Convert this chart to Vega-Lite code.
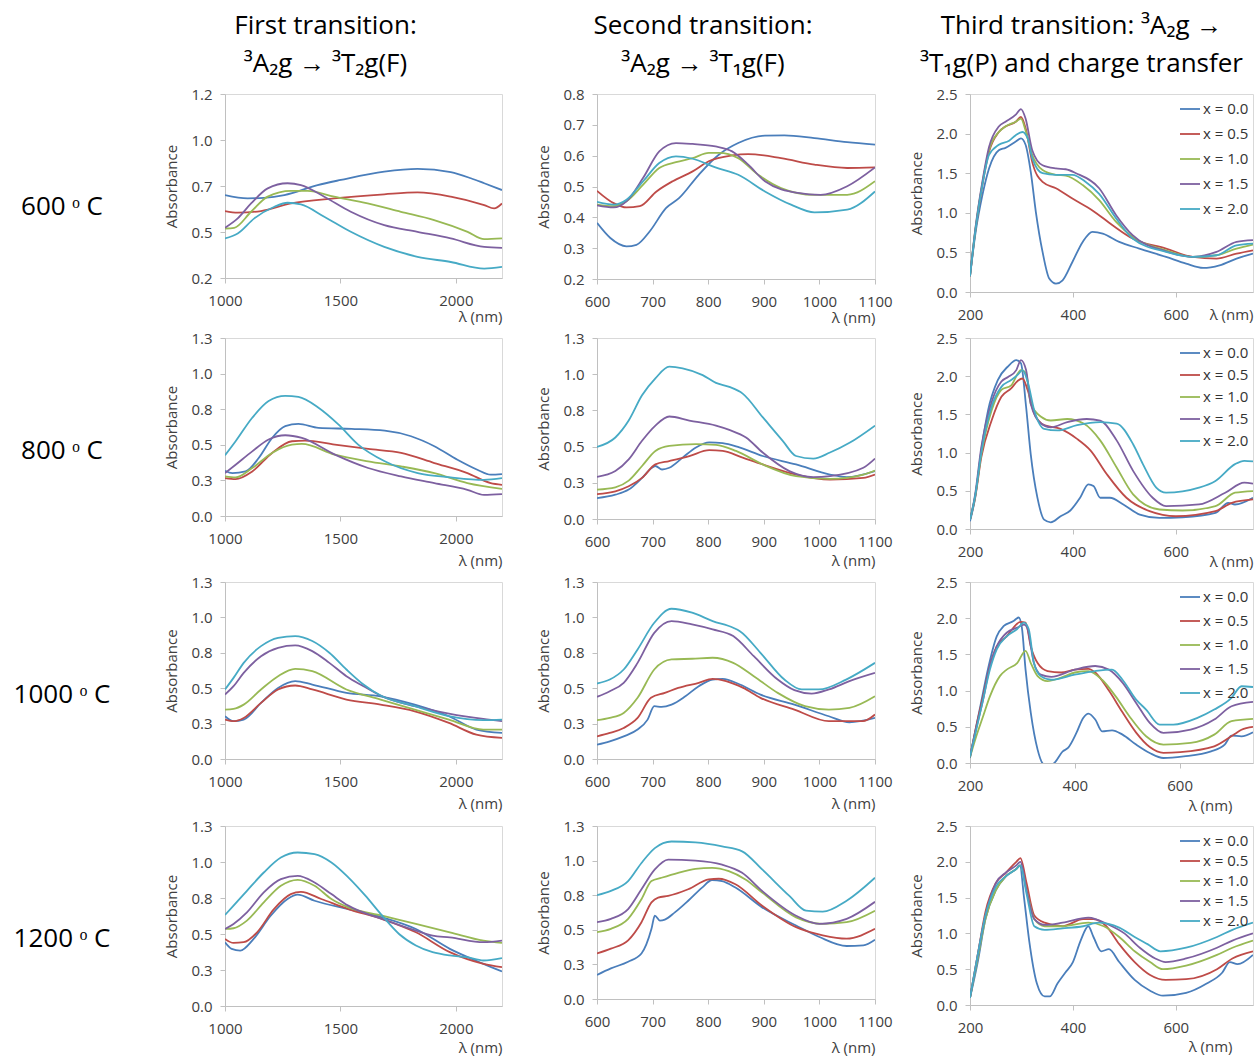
{
"$schema": "https://vega.github.io/schema/vega-lite/v6.json",
"padding": 0,
"background": "white",
"columns": 4,
"bounds": "flush",
"align": "each",
"spacing": {"row": 18, "column": 95},
"resolve": {"scale": {"color": "independent"}},
"config": {
  "font": "Open Sans",
  "view": {"stroke": "#d9d9d9", "strokeWidth": 1},
  "axis": {"labelFont": "Open Sans", "labelFontSize": 15, "labelColor": "#404040", "titleFont": "Open Sans", "titleFontSize": 15, "titleFontWeight": "normal", "titleColor": "#404040", "domainColor": "#c0c0c0", "tickColor": "#c0c0c0", "tickSize": 5, "grid": false, "labelFlush": false, "labelOverlap": false},
  "axisX": {"labelPadding": 10, "titleAnchor": "end", "titleAlign": "right", "titleBaseline": "middle", "format": "d"},
  "axisY": {"labelPadding": 8, "titlePadding": 11},
  "legend": {"labelFont": "Open Sans", "labelFontSize": 15, "labelColor": "#333333", "symbolType": "stroke", "symbolStrokeWidth": 2, "symbolSize": 400, "labelOffset": 2, "padding": 0},
  "line": {"strokeWidth": 1.8, "interpolate": "monotone"},
  "text": {"font": "Open Sans", "color": "black"}
},
"concat": [
  {"width": 130, "height": 76, "view": {"stroke": null}, "data": {"values": [{"t": ""}]}, "mark": {"type": "text"}, "encoding": {"text": {"field": "t", "type": "nominal"}}},
  {"width": 277, "height": 76, "view": {"stroke": null}, "data": {"values": [{"t": "First transition:\n³A₂g → ³T₂g(F)"}]}, "mark": {"type": "text", "fontSize": 26, "lineBreak": "\n", "lineHeight": 38, "dy": -12, "dx": -38}, "encoding": {"text": {"field": "t", "type": "nominal"}}},
  {"width": 278, "height": 76, "view": {"stroke": null}, "data": {"values": [{"t": "Second transition:\n³A₂g → ³T₁g(F)"}]}, "mark": {"type": "text", "fontSize": 26, "lineBreak": "\n", "lineHeight": 38, "dy": -12, "dx": -33}, "encoding": {"text": {"field": "t", "type": "nominal"}}},
  {"width": 283, "height": 76, "view": {"stroke": null}, "data": {"values": [{"t": "Third transition: ³A₂g →\n³T₁g(P) and charge transfer"}]}, "mark": {"type": "text", "fontSize": 26, "lineBreak": "\n", "lineHeight": 38, "dy": -12, "dx": -30}, "encoding": {"text": {"field": "t", "type": "nominal"}}},

  {"width": 130, "height": 226, "view": {"stroke": null}, "data": {"values": [{"t": "600 ᵒ C"}]}, "mark": {"type": "text", "fontSize": 26, "dx": -3}, "encoding": {"text": {"field": "t", "type": "nominal"}}},
  {"width": 277, "height": 184,
   "data": {"values": [
    {"s":"x = 0.0","w":1000,"a":0.651},{"s":"x = 0.0","w":1098,"a":0.633},{"s":"x = 0.0","w":1170,"a":0.636},{"s":"x = 0.0","w":1257,"a":0.651},{"s":"x = 0.0","w":1401,"a":0.705},{"s":"x = 0.0","w":1502,"a":0.733},{"s":"x = 0.0","w":1690,"a":0.778},{"s":"x = 0.0","w":1834,"a":0.793},{"s":"x = 0.0","w":1978,"a":0.775},{"s":"x = 0.0","w":2065,"a":0.742},{"s":"x = 0.0","w":2123,"a":0.715},{"s":"x = 0.0","w":2200,"a":0.678},
    {"s":"x = 0.5","w":1000,"a":0.564},{"s":"x = 0.5","w":1055,"a":0.555},{"s":"x = 0.5","w":1156,"a":0.564},{"s":"x = 0.5","w":1286,"a":0.605},{"s":"x = 0.5","w":1473,"a":0.633},{"s":"x = 0.5","w":1690,"a":0.655},{"s":"x = 0.5","w":1834,"a":0.665},{"s":"x = 0.5","w":1978,"a":0.642},{"s":"x = 0.5","w":2123,"a":0.596},{"s":"x = 0.5","w":2166,"a":0.578},{"s":"x = 0.5","w":2200,"a":0.605},
    {"s":"x = 1.0","w":1000,"a":0.469},{"s":"x = 1.0","w":1040,"a":0.473},{"s":"x = 1.0","w":1113,"a":0.56},{"s":"x = 1.0","w":1185,"a":0.642},{"s":"x = 1.0","w":1286,"a":0.673},{"s":"x = 1.0","w":1358,"a":0.673},{"s":"x = 1.0","w":1473,"a":0.642},{"s":"x = 1.0","w":1618,"a":0.605},{"s":"x = 1.0","w":1762,"a":0.56},{"s":"x = 1.0","w":1906,"a":0.515},{"s":"x = 1.0","w":2051,"a":0.451},{"s":"x = 1.0","w":2123,"a":0.411},{"s":"x = 1.0","w":2200,"a":0.415},
    {"s":"x = 1.5","w":1000,"a":0.473},{"s":"x = 1.5","w":1055,"a":0.524},{"s":"x = 1.5","w":1113,"a":0.605},{"s":"x = 1.5","w":1185,"a":0.687},{"s":"x = 1.5","w":1271,"a":0.715},{"s":"x = 1.5","w":1329,"a":0.705},{"s":"x = 1.5","w":1430,"a":0.642},{"s":"x = 1.5","w":1545,"a":0.56},{"s":"x = 1.5","w":1690,"a":0.487},{"s":"x = 1.5","w":1834,"a":0.451},{"s":"x = 1.5","w":1978,"a":0.415},{"s":"x = 1.5","w":2123,"a":0.369},{"s":"x = 1.5","w":2200,"a":0.364},
    {"s":"x = 2.0","w":1000,"a":0.415},{"s":"x = 2.0","w":1055,"a":0.442},{"s":"x = 2.0","w":1127,"a":0.524},{"s":"x = 2.0","w":1214,"a":0.587},{"s":"x = 2.0","w":1271,"a":0.609},{"s":"x = 2.0","w":1329,"a":0.6},{"s":"x = 2.0","w":1430,"a":0.533},{"s":"x = 2.0","w":1545,"a":0.451},{"s":"x = 2.0","w":1690,"a":0.369},{"s":"x = 2.0","w":1834,"a":0.315},{"s":"x = 2.0","w":1978,"a":0.287},{"s":"x = 2.0","w":2123,"a":0.251},{"s":"x = 2.0","w":2200,"a":0.26}
   ]},
   "mark": {"type": "line", "clip": true},
   "encoding": {
    "x": {"field": "w", "type": "quantitative", "scale": {"domain": [1000, 2200], "nice": false, "zero": false}, "axis": {"values": [1000, 1500, 2000], "title": "λ (nm)", "titleY": 38}},
    "y": {"field": "a", "type": "quantitative", "scale": {"domain": [0.2, 1.2], "nice": false, "zero": false}, "axis": {"values": [0.2, 0.45, 0.7, 0.95, 1.2], "labelExpr": "format(datum.value + 0.000001, '.1f')", "title": "Absorbance"}},
    "color": {"field": "s", "type": "nominal", "scale": {"domain": ["x = 0.0", "x = 0.5", "x = 1.0", "x = 1.5", "x = 2.0"], "range": ["#4a7ebb", "#be4b48", "#98b954", "#7d60a0", "#46aac5"]}, "legend": null}
   }},
  {"width": 278, "height": 185,
   "data": {"values": [
    {"s":"x = 0.0","w":600,"a":0.382},{"s":"x = 0.0","w":624,"a":0.333},{"s":"x = 0.0","w":653,"a":0.306},{"s":"x = 0.0","w":671,"a":0.311},{"s":"x = 0.0","w":695,"a":0.355},{"s":"x = 0.0","w":724,"a":0.43},{"s":"x = 0.0","w":748,"a":0.463},{"s":"x = 0.0","w":783,"a":0.538},{"s":"x = 0.0","w":819,"a":0.603},{"s":"x = 0.0","w":854,"a":0.641},{"s":"x = 0.0","w":902,"a":0.665},{"s":"x = 0.0","w":937,"a":0.666},{"s":"x = 0.0","w":991,"a":0.657},{"s":"x = 0.0","w":1050,"a":0.644},{"s":"x = 0.0","w":1100,"a":0.636},
    {"s":"x = 0.5","w":600,"a":0.486},{"s":"x = 0.5","w":630,"a":0.446},{"s":"x = 0.5","w":653,"a":0.432},{"s":"x = 0.5","w":677,"a":0.436},{"s":"x = 0.5","w":707,"a":0.484},{"s":"x = 0.5","w":736,"a":0.517},{"s":"x = 0.5","w":772,"a":0.549},{"s":"x = 0.5","w":801,"a":0.582},{"s":"x = 0.5","w":843,"a":0.601},{"s":"x = 0.5","w":872,"a":0.605},{"s":"x = 0.5","w":931,"a":0.592},{"s":"x = 0.5","w":991,"a":0.571},{"s":"x = 0.5","w":1050,"a":0.56},{"s":"x = 0.5","w":1100,"a":0.562},
    {"s":"x = 1.0","w":600,"a":0.441},{"s":"x = 1.0","w":630,"a":0.436},{"s":"x = 1.0","w":653,"a":0.452},{"s":"x = 1.0","w":683,"a":0.506},{"s":"x = 1.0","w":712,"a":0.56},{"s":"x = 1.0","w":742,"a":0.579},{"s":"x = 1.0","w":772,"a":0.592},{"s":"x = 1.0","w":801,"a":0.609},{"s":"x = 1.0","w":819,"a":0.609},{"s":"x = 1.0","w":854,"a":0.592},{"s":"x = 1.0","w":890,"a":0.538},{"s":"x = 1.0","w":931,"a":0.495},{"s":"x = 1.0","w":991,"a":0.473},{"s":"x = 1.0","w":1050,"a":0.473},{"s":"x = 1.0","w":1100,"a":0.517},
    {"s":"x = 1.5","w":600,"a":0.439},{"s":"x = 1.5","w":630,"a":0.432},{"s":"x = 1.5","w":653,"a":0.452},{"s":"x = 1.5","w":683,"a":0.528},{"s":"x = 1.5","w":712,"a":0.614},{"s":"x = 1.5","w":742,"a":0.641},{"s":"x = 1.5","w":772,"a":0.638},{"s":"x = 1.5","w":813,"a":0.63},{"s":"x = 1.5","w":843,"a":0.614},{"s":"x = 1.5","w":872,"a":0.571},{"s":"x = 1.5","w":902,"a":0.517},{"s":"x = 1.5","w":961,"a":0.479},{"s":"x = 1.5","w":1002,"a":0.473},{"s":"x = 1.5","w":1050,"a":0.501},{"s":"x = 1.5","w":1100,"a":0.562},
    {"s":"x = 2.0","w":600,"a":0.45},{"s":"x = 2.0","w":630,"a":0.441},{"s":"x = 2.0","w":653,"a":0.457},{"s":"x = 2.0","w":683,"a":0.517},{"s":"x = 2.0","w":712,"a":0.576},{"s":"x = 2.0","w":742,"a":0.598},{"s":"x = 2.0","w":772,"a":0.59},{"s":"x = 2.0","w":813,"a":0.562},{"s":"x = 2.0","w":854,"a":0.538},{"s":"x = 2.0","w":902,"a":0.484},{"s":"x = 2.0","w":949,"a":0.441},{"s":"x = 2.0","w":991,"a":0.416},{"s":"x = 2.0","w":1050,"a":0.425},{"s":"x = 2.0","w":1100,"a":0.484}
   ]},
   "mark": {"type": "line", "clip": true},
   "encoding": {
    "x": {"field": "w", "type": "quantitative", "scale": {"domain": [600, 1100], "nice": false, "zero": false}, "axis": {"values": [600, 700, 800, 900, 1000, 1100], "title": "λ (nm)", "titleY": 38}},
    "y": {"field": "a", "type": "quantitative", "scale": {"domain": [0.2, 0.8], "nice": false, "zero": false}, "axis": {"values": [0.2, 0.3, 0.4, 0.5, 0.6, 0.7, 0.8], "format": ".1f", "title": "Absorbance"}},
    "color": {"field": "s", "type": "nominal", "scale": {"domain": ["x = 0.0", "x = 0.5", "x = 1.0", "x = 1.5", "x = 2.0"], "range": ["#4a7ebb", "#be4b48", "#98b954", "#7d60a0", "#46aac5"]}, "legend": null}
   }},
  {"width": 283, "height": 198,
   "data": {"values": [
    {"s":"x = 0.0","w":200,"a":0.2},{"s":"x = 0.0","w":211,"a":0.759},{"s":"x = 0.0","w":224,"a":1.22},{"s":"x = 0.0","w":237,"a":1.56},{"s":"x = 0.0","w":256,"a":1.79},{"s":"x = 0.0","w":269,"a":1.82},{"s":"x = 0.0","w":289,"a":1.9},{"s":"x = 0.0","w":299,"a":1.94},{"s":"x = 0.0","w":308,"a":1.86},{"s":"x = 0.0","w":318,"a":1.52},{"s":"x = 0.0","w":328,"a":1.01},{"s":"x = 0.0","w":341,"a":0.506},{"s":"x = 0.0","w":354,"a":0.169},{"s":"x = 0.0","w":367,"a":0.105},{"s":"x = 0.0","w":380,"a":0.148},{"s":"x = 0.0","w":399,"a":0.379},{"s":"x = 0.0","w":419,"a":0.632},{"s":"x = 0.0","w":438,"a":0.759},{"s":"x = 0.0","w":458,"a":0.738},{"s":"x = 0.0","w":490,"a":0.632},{"s":"x = 0.0","w":529,"a":0.548},{"s":"x = 0.0","w":581,"a":0.443},{"s":"x = 0.0","w":620,"a":0.358},{"s":"x = 0.0","w":653,"a":0.304},{"s":"x = 0.0","w":685,"a":0.337},{"s":"x = 0.0","w":718,"a":0.422},{"s":"x = 0.0","w":750,"a":0.485},
    {"s":"x = 0.5","w":200,"a":0.2},{"s":"x = 0.5","w":211,"a":0.8},{"s":"x = 0.5","w":224,"a":1.35},{"s":"x = 0.5","w":237,"a":1.77},{"s":"x = 0.5","w":256,"a":2.02},{"s":"x = 0.5","w":269,"a":2.09},{"s":"x = 0.5","w":289,"a":2.15},{"s":"x = 0.5","w":299,"a":2.21},{"s":"x = 0.5","w":308,"a":2.07},{"s":"x = 0.5","w":321,"a":1.64},{"s":"x = 0.5","w":341,"a":1.39},{"s":"x = 0.5","w":367,"a":1.31},{"s":"x = 0.5","w":399,"a":1.18},{"s":"x = 0.5","w":438,"a":1.03},{"s":"x = 0.5","w":477,"a":0.843},{"s":"x = 0.5","w":516,"a":0.675},{"s":"x = 0.5","w":581,"a":0.548},{"s":"x = 0.5","w":633,"a":0.443},{"s":"x = 0.5","w":679,"a":0.422},{"s":"x = 0.5","w":718,"a":0.485},{"s":"x = 0.5","w":750,"a":0.527},
    {"s":"x = 1.0","w":200,"a":0.2},{"s":"x = 1.0","w":211,"a":0.82},{"s":"x = 1.0","w":224,"a":1.37},{"s":"x = 1.0","w":237,"a":1.79},{"s":"x = 1.0","w":256,"a":2.02},{"s":"x = 1.0","w":269,"a":2.09},{"s":"x = 1.0","w":289,"a":2.15},{"s":"x = 1.0","w":299,"a":2.19},{"s":"x = 1.0","w":308,"a":2.04},{"s":"x = 1.0","w":321,"a":1.73},{"s":"x = 1.0","w":341,"a":1.54},{"s":"x = 1.0","w":367,"a":1.48},{"s":"x = 1.0","w":386,"a":1.47},{"s":"x = 1.0","w":419,"a":1.35},{"s":"x = 1.0","w":451,"a":1.16},{"s":"x = 1.0","w":484,"a":0.885},{"s":"x = 1.0","w":516,"a":0.696},{"s":"x = 1.0","w":581,"a":0.527},{"s":"x = 1.0","w":633,"a":0.443},{"s":"x = 1.0","w":679,"a":0.464},{"s":"x = 1.0","w":718,"a":0.548},{"s":"x = 1.0","w":750,"a":0.599},
    {"s":"x = 1.5","w":200,"a":0.2},{"s":"x = 1.5","w":211,"a":0.83},{"s":"x = 1.5","w":224,"a":1.39},{"s":"x = 1.5","w":237,"a":1.83},{"s":"x = 1.5","w":256,"a":2.09},{"s":"x = 1.5","w":269,"a":2.15},{"s":"x = 1.5","w":289,"a":2.24},{"s":"x = 1.5","w":299,"a":2.31},{"s":"x = 1.5","w":308,"a":2.19},{"s":"x = 1.5","w":321,"a":1.79},{"s":"x = 1.5","w":341,"a":1.6},{"s":"x = 1.5","w":367,"a":1.56},{"s":"x = 1.5","w":386,"a":1.55},{"s":"x = 1.5","w":406,"a":1.5},{"s":"x = 1.5","w":451,"a":1.31},{"s":"x = 1.5","w":484,"a":0.97},{"s":"x = 1.5","w":516,"a":0.717},{"s":"x = 1.5","w":581,"a":0.514},{"s":"x = 1.5","w":633,"a":0.443},{"s":"x = 1.5","w":679,"a":0.506},{"s":"x = 1.5","w":718,"a":0.632},{"s":"x = 1.5","w":750,"a":0.654},
    {"s":"x = 2.0","w":200,"a":0.2},{"s":"x = 2.0","w":211,"a":0.8},{"s":"x = 2.0","w":224,"a":1.35},{"s":"x = 2.0","w":237,"a":1.73},{"s":"x = 2.0","w":256,"a":1.86},{"s":"x = 2.0","w":276,"a":1.91},{"s":"x = 2.0","w":289,"a":1.98},{"s":"x = 2.0","w":302,"a":2.02},{"s":"x = 2.0","w":312,"a":1.94},{"s":"x = 2.0","w":321,"a":1.69},{"s":"x = 2.0","w":341,"a":1.5},{"s":"x = 2.0","w":367,"a":1.48},{"s":"x = 2.0","w":399,"a":1.48},{"s":"x = 2.0","w":425,"a":1.39},{"s":"x = 2.0","w":451,"a":1.24},{"s":"x = 2.0","w":484,"a":0.93},{"s":"x = 2.0","w":516,"a":0.675},{"s":"x = 2.0","w":581,"a":0.506},{"s":"x = 2.0","w":633,"a":0.443},{"s":"x = 2.0","w":679,"a":0.464},{"s":"x = 2.0","w":718,"a":0.59},{"s":"x = 2.0","w":750,"a":0.611}
   ]},
   "mark": {"type": "line", "clip": true},
   "encoding": {
    "x": {"field": "w", "type": "quantitative", "scale": {"domain": [200, 750], "nice": false, "zero": false}, "axis": {"values": [200, 400, 600], "title": "λ (nm)", "titleY": 22}},
    "y": {"field": "a", "type": "quantitative", "scale": {"domain": [0, 2.5], "nice": false, "zero": false}, "axis": {"values": [0, 0.5, 1, 1.5, 2, 2.5], "format": ".1f", "title": "Absorbance"}},
    "color": {"field": "s", "type": "nominal", "scale": {"domain": ["x = 0.0", "x = 0.5", "x = 1.0", "x = 1.5", "x = 2.0"], "range": ["#4a7ebb", "#be4b48", "#98b954", "#7d60a0", "#46aac5"]}, "legend": {"title": null, "orient": "top-right", "offset": 4, "rowPadding": 6}}
   }},

  {"width": 130, "height": 226, "view": {"stroke": null}, "data": {"values": [{"t": "800 ᵒ C"}]}, "mark": {"type": "text", "fontSize": 26, "dx": -3}, "encoding": {"text": {"field": "t", "type": "nominal"}}},
  {"width": 277, "height": 178,
   "data": {"values": [
    {"s":"x = 0.0","w":1000,"a":0.318},{"s":"x = 0.0","w":1032,"a":0.301},{"s":"x = 0.0","w":1089,"a":0.313},{"s":"x = 0.0","w":1146,"a":0.407},{"s":"x = 0.0","w":1204,"a":0.548},{"s":"x = 0.0","w":1261,"a":0.631},{"s":"x = 0.0","w":1318,"a":0.647},{"s":"x = 0.0","w":1405,"a":0.619},{"s":"x = 0.0","w":1548,"a":0.612},{"s":"x = 0.0","w":1692,"a":0.6},{"s":"x = 0.0","w":1806,"a":0.56},{"s":"x = 0.0","w":1907,"a":0.49},{"s":"x = 0.0","w":2007,"a":0.395},{"s":"x = 0.0","w":2093,"a":0.325},{"s":"x = 0.0","w":2151,"a":0.29},{"s":"x = 0.0","w":2200,"a":0.294},
    {"s":"x = 0.5","w":1000,"a":0.266},{"s":"x = 0.5","w":1046,"a":0.259},{"s":"x = 0.5","w":1118,"a":0.313},{"s":"x = 0.5","w":1204,"a":0.443},{"s":"x = 0.5","w":1290,"a":0.525},{"s":"x = 0.5","w":1347,"a":0.53},{"s":"x = 0.5","w":1476,"a":0.501},{"s":"x = 0.5","w":1620,"a":0.471},{"s":"x = 0.5","w":1763,"a":0.443},{"s":"x = 0.5","w":1907,"a":0.372},{"s":"x = 0.5","w":2050,"a":0.301},{"s":"x = 0.5","w":2151,"a":0.231},{"s":"x = 0.5","w":2200,"a":0.219},
    {"s":"x = 1.0","w":1000,"a":0.278},{"s":"x = 1.0","w":1046,"a":0.271},{"s":"x = 1.0","w":1118,"a":0.337},{"s":"x = 1.0","w":1204,"a":0.443},{"s":"x = 1.0","w":1290,"a":0.501},{"s":"x = 1.0","w":1333,"a":0.506},{"s":"x = 1.0","w":1476,"a":0.431},{"s":"x = 1.0","w":1620,"a":0.384},{"s":"x = 1.0","w":1763,"a":0.348},{"s":"x = 1.0","w":1907,"a":0.301},{"s":"x = 1.0","w":2050,"a":0.231},{"s":"x = 1.0","w":2200,"a":0.191},
    {"s":"x = 1.5","w":1000,"a":0.301},{"s":"x = 1.5","w":1046,"a":0.36},{"s":"x = 1.5","w":1118,"a":0.454},{"s":"x = 1.5","w":1189,"a":0.537},{"s":"x = 1.5","w":1261,"a":0.567},{"s":"x = 1.5","w":1333,"a":0.548},{"s":"x = 1.5","w":1476,"a":0.431},{"s":"x = 1.5","w":1620,"a":0.337},{"s":"x = 1.5","w":1763,"a":0.278},{"s":"x = 1.5","w":1907,"a":0.231},{"s":"x = 1.5","w":2050,"a":0.184},{"s":"x = 1.5","w":2122,"a":0.148},{"s":"x = 1.5","w":2200,"a":0.153},
    {"s":"x = 2.0","w":1000,"a":0.426},{"s":"x = 2.0","w":1046,"a":0.525},{"s":"x = 2.0","w":1118,"a":0.69},{"s":"x = 2.0","w":1189,"a":0.807},{"s":"x = 2.0","w":1261,"a":0.843},{"s":"x = 2.0","w":1318,"a":0.836},{"s":"x = 2.0","w":1405,"a":0.76},{"s":"x = 2.0","w":1491,"a":0.643},{"s":"x = 2.0","w":1577,"a":0.501},{"s":"x = 2.0","w":1692,"a":0.384},{"s":"x = 2.0","w":1835,"a":0.301},{"s":"x = 2.0","w":1978,"a":0.271},{"s":"x = 2.0","w":2122,"a":0.254},{"s":"x = 2.0","w":2200,"a":0.266}
   ]},
   "mark": {"type": "line", "clip": true},
   "encoding": {
    "x": {"field": "w", "type": "quantitative", "scale": {"domain": [1000, 2200], "nice": false, "zero": false}, "axis": {"values": [1000, 1500, 2000], "title": "λ (nm)", "titleY": 44}},
    "y": {"field": "a", "type": "quantitative", "scale": {"domain": [0, 1.25], "nice": false, "zero": false}, "axis": {"values": [0, 0.25, 0.5, 0.75, 1, 1.25], "labelExpr": "format(datum.value + 0.000001, '.1f')", "title": "Absorbance"}},
    "color": {"field": "s", "type": "nominal", "scale": {"domain": ["x = 0.0", "x = 0.5", "x = 1.0", "x = 1.5", "x = 2.0"], "range": ["#4a7ebb", "#be4b48", "#98b954", "#7d60a0", "#46aac5"]}, "legend": null}
   }},
  {"width": 278, "height": 181,
   "data": {"values": [
    {"s":"x = 0.0","w":600,"a":0.144},{"s":"x = 0.0","w":633,"a":0.168},{"s":"x = 0.0","w":657,"a":0.203},{"s":"x = 0.0","w":681,"a":0.284},{"s":"x = 0.0","w":699,"a":0.354},{"s":"x = 0.0","w":705,"a":0.366},{"s":"x = 0.0","w":717,"a":0.342},{"s":"x = 0.0","w":730,"a":0.354},{"s":"x = 0.0","w":754,"a":0.424},{"s":"x = 0.0","w":778,"a":0.494},{"s":"x = 0.0","w":802,"a":0.529},{"s":"x = 0.0","w":826,"a":0.524},{"s":"x = 0.0","w":856,"a":0.494},{"s":"x = 0.0","w":898,"a":0.435},{"s":"x = 0.0","w":958,"a":0.377},{"s":"x = 0.0","w":1019,"a":0.307},{"s":"x = 0.0","w":1049,"a":0.289},{"s":"x = 0.0","w":1100,"a":0.331},
    {"s":"x = 0.5","w":600,"a":0.172},{"s":"x = 0.5","w":633,"a":0.191},{"s":"x = 0.5","w":657,"a":0.226},{"s":"x = 0.5","w":681,"a":0.284},{"s":"x = 0.5","w":705,"a":0.377},{"s":"x = 0.5","w":730,"a":0.4},{"s":"x = 0.5","w":766,"a":0.435},{"s":"x = 0.5","w":802,"a":0.475},{"s":"x = 0.5","w":826,"a":0.47},{"s":"x = 0.5","w":862,"a":0.424},{"s":"x = 0.5","w":898,"a":0.377},{"s":"x = 0.5","w":958,"a":0.307},{"s":"x = 0.5","w":1019,"a":0.272},{"s":"x = 0.5","w":1079,"a":0.284},{"s":"x = 0.5","w":1100,"a":0.307},
    {"s":"x = 1.0","w":600,"a":0.203},{"s":"x = 1.0","w":633,"a":0.219},{"s":"x = 1.0","w":657,"a":0.265},{"s":"x = 1.0","w":681,"a":0.366},{"s":"x = 1.0","w":705,"a":0.47},{"s":"x = 1.0","w":730,"a":0.505},{"s":"x = 1.0","w":778,"a":0.517},{"s":"x = 1.0","w":814,"a":0.512},{"s":"x = 1.0","w":850,"a":0.47},{"s":"x = 1.0","w":898,"a":0.377},{"s":"x = 1.0","w":958,"a":0.296},{"s":"x = 1.0","w":1019,"a":0.277},{"s":"x = 1.0","w":1079,"a":0.307},{"s":"x = 1.0","w":1100,"a":0.335},
    {"s":"x = 1.5","w":600,"a":0.291},{"s":"x = 1.5","w":633,"a":0.331},{"s":"x = 1.5","w":657,"a":0.412},{"s":"x = 1.5","w":681,"a":0.54},{"s":"x = 1.5","w":705,"a":0.645},{"s":"x = 1.5","w":730,"a":0.708},{"s":"x = 1.5","w":766,"a":0.68},{"s":"x = 1.5","w":814,"a":0.645},{"s":"x = 1.5","w":838,"a":0.615},{"s":"x = 1.5","w":868,"a":0.563},{"s":"x = 1.5","w":898,"a":0.459},{"s":"x = 1.5","w":946,"a":0.331},{"s":"x = 1.5","w":989,"a":0.289},{"s":"x = 1.5","w":1019,"a":0.296},{"s":"x = 1.5","w":1079,"a":0.354},{"s":"x = 1.5","w":1100,"a":0.417},
    {"s":"x = 2.0","w":600,"a":0.498},{"s":"x = 2.0","w":633,"a":0.563},{"s":"x = 2.0","w":657,"a":0.68},{"s":"x = 2.0","w":681,"a":0.854},{"s":"x = 2.0","w":705,"a":0.971},{"s":"x = 2.0","w":730,"a":1.052},{"s":"x = 2.0","w":754,"a":1.041},{"s":"x = 2.0","w":790,"a":0.994},{"s":"x = 2.0","w":814,"a":0.94},{"s":"x = 2.0","w":838,"a":0.912},{"s":"x = 2.0","w":862,"a":0.866},{"s":"x = 2.0","w":898,"a":0.703},{"s":"x = 2.0","w":934,"a":0.54},{"s":"x = 2.0","w":958,"a":0.435},{"s":"x = 2.0","w":989,"a":0.417},{"s":"x = 2.0","w":1019,"a":0.459},{"s":"x = 2.0","w":1055,"a":0.528},{"s":"x = 2.0","w":1100,"a":0.645}
   ]},
   "mark": {"type": "line", "clip": true},
   "encoding": {
    "x": {"field": "w", "type": "quantitative", "scale": {"domain": [600, 1100], "nice": false, "zero": false}, "axis": {"values": [600, 700, 800, 900, 1000, 1100], "title": "λ (nm)", "titleY": 41}},
    "y": {"field": "a", "type": "quantitative", "scale": {"domain": [0, 1.25], "nice": false, "zero": false}, "axis": {"values": [0, 0.25, 0.5, 0.75, 1, 1.25], "labelExpr": "format(datum.value + 0.000001, '.1f')", "title": "Absorbance"}},
    "color": {"field": "s", "type": "nominal", "scale": {"domain": ["x = 0.0", "x = 0.5", "x = 1.0", "x = 1.5", "x = 2.0"], "range": ["#4a7ebb", "#be4b48", "#98b954", "#7d60a0", "#46aac5"]}, "legend": null}
   }},
  {"width": 283, "height": 191,
   "data": {"values": [
    {"s":"x = 0.0","w":200,"a":0.1},{"s":"x = 0.0","w":210,"a":0.41},{"s":"x = 0.0","w":222,"a":1.03},{"s":"x = 0.0","w":235,"a":1.55},{"s":"x = 0.0","w":254,"a":1.95},{"s":"x = 0.0","w":274,"a":2.13},{"s":"x = 0.0","w":290,"a":2.21},{"s":"x = 0.0","w":299,"a":2.17},{"s":"x = 0.0","w":309,"a":1.6},{"s":"x = 0.0","w":318,"a":0.98},{"s":"x = 0.0","w":331,"a":0.41},{"s":"x = 0.0","w":344,"a":0.123},{"s":"x = 0.0","w":357,"a":0.088},{"s":"x = 0.0","w":376,"a":0.167},{"s":"x = 0.0","w":395,"a":0.242},{"s":"x = 0.0","w":414,"a":0.409},{"s":"x = 0.0","w":430,"a":0.585},{"s":"x = 0.0","w":440,"a":0.563},{"s":"x = 0.0","w":453,"a":0.409},{"s":"x = 0.0","w":472,"a":0.409},{"s":"x = 0.0","w":498,"a":0.321},{"s":"x = 0.0","w":530,"a":0.189},{"s":"x = 0.0","w":568,"a":0.145},{"s":"x = 0.0","w":613,"a":0.154},{"s":"x = 0.0","w":677,"a":0.211},{"s":"x = 0.0","w":702,"a":0.343},{"s":"x = 0.0","w":715,"a":0.321},{"s":"x = 0.0","w":750,"a":0.409},
    {"s":"x = 0.5","w":200,"a":0.123},{"s":"x = 0.5","w":210,"a":0.409},{"s":"x = 0.5","w":222,"a":0.94},{"s":"x = 0.5","w":242,"a":1.42},{"s":"x = 0.5","w":261,"a":1.73},{"s":"x = 0.5","w":280,"a":1.84},{"s":"x = 0.5","w":293,"a":1.94},{"s":"x = 0.5","w":302,"a":1.97},{"s":"x = 0.5","w":312,"a":1.82},{"s":"x = 0.5","w":325,"a":1.51},{"s":"x = 0.5","w":344,"a":1.36},{"s":"x = 0.5","w":376,"a":1.31},{"s":"x = 0.5","w":408,"a":1.18},{"s":"x = 0.5","w":434,"a":1.03},{"s":"x = 0.5","w":466,"a":0.717},{"s":"x = 0.5","w":504,"a":0.409},{"s":"x = 0.5","w":549,"a":0.233},{"s":"x = 0.5","w":600,"a":0.167},{"s":"x = 0.5","w":677,"a":0.233},{"s":"x = 0.5","w":709,"a":0.343},{"s":"x = 0.5","w":750,"a":0.387},
    {"s":"x = 1.0","w":200,"a":0.12},{"s":"x = 1.0","w":210,"a":0.43},{"s":"x = 1.0","w":222,"a":0.98},{"s":"x = 1.0","w":242,"a":1.55},{"s":"x = 1.0","w":261,"a":1.82},{"s":"x = 1.0","w":280,"a":1.88},{"s":"x = 1.0","w":299,"a":2.08},{"s":"x = 1.0","w":309,"a":2.04},{"s":"x = 1.0","w":318,"a":1.64},{"s":"x = 1.0","w":338,"a":1.47},{"s":"x = 1.0","w":357,"a":1.42},{"s":"x = 1.0","w":389,"a":1.44},{"s":"x = 1.0","w":421,"a":1.38},{"s":"x = 1.0","w":453,"a":1.16},{"s":"x = 1.0","w":485,"a":0.805},{"s":"x = 1.0","w":517,"a":0.453},{"s":"x = 1.0","w":568,"a":0.255},{"s":"x = 1.0","w":613,"a":0.242},{"s":"x = 1.0","w":677,"a":0.299},{"s":"x = 1.0","w":715,"a":0.475},{"s":"x = 1.0","w":750,"a":0.497},
    {"s":"x = 1.5","w":200,"a":0.12},{"s":"x = 1.5","w":210,"a":0.453},{"s":"x = 1.5","w":222,"a":1.07},{"s":"x = 1.5","w":242,"a":1.66},{"s":"x = 1.5","w":261,"a":1.93},{"s":"x = 1.5","w":274,"a":1.99},{"s":"x = 1.5","w":290,"a":2.08},{"s":"x = 1.5","w":299,"a":2.21},{"s":"x = 1.5","w":309,"a":2.08},{"s":"x = 1.5","w":318,"a":1.64},{"s":"x = 1.5","w":338,"a":1.38},{"s":"x = 1.5","w":357,"a":1.33},{"s":"x = 1.5","w":389,"a":1.4},{"s":"x = 1.5","w":427,"a":1.44},{"s":"x = 1.5","w":453,"a":1.42},{"s":"x = 1.5","w":485,"a":1.16},{"s":"x = 1.5","w":517,"a":0.761},{"s":"x = 1.5","w":555,"a":0.409},{"s":"x = 1.5","w":581,"a":0.299},{"s":"x = 1.5","w":645,"a":0.321},{"s":"x = 1.5","w":696,"a":0.475},{"s":"x = 1.5","w":733,"a":0.607},{"s":"x = 1.5","w":750,"a":0.594},
    {"s":"x = 2.0","w":200,"a":0.12},{"s":"x = 2.0","w":210,"a":0.43},{"s":"x = 2.0","w":222,"a":1.0},{"s":"x = 2.0","w":242,"a":1.6},{"s":"x = 2.0","w":261,"a":1.86},{"s":"x = 2.0","w":280,"a":1.95},{"s":"x = 2.0","w":293,"a":2.02},{"s":"x = 2.0","w":302,"a":2.08},{"s":"x = 2.0","w":312,"a":1.93},{"s":"x = 2.0","w":325,"a":1.55},{"s":"x = 2.0","w":344,"a":1.31},{"s":"x = 2.0","w":370,"a":1.29},{"s":"x = 2.0","w":408,"a":1.36},{"s":"x = 2.0","w":453,"a":1.4},{"s":"x = 2.0","w":485,"a":1.38},{"s":"x = 2.0","w":517,"a":1.11},{"s":"x = 2.0","w":536,"a":0.849},{"s":"x = 2.0","w":562,"a":0.541},{"s":"x = 2.0","w":581,"a":0.475},{"s":"x = 2.0","w":645,"a":0.541},{"s":"x = 2.0","w":677,"a":0.629},{"s":"x = 2.0","w":715,"a":0.849},{"s":"x = 2.0","w":733,"a":0.893},{"s":"x = 2.0","w":750,"a":0.885}
   ]},
   "mark": {"type": "line", "clip": true},
   "encoding": {
    "x": {"field": "w", "type": "quantitative", "scale": {"domain": [200, 750], "nice": false, "zero": false}, "axis": {"values": [200, 400, 600], "title": "λ (nm)", "titleY": 32}},
    "y": {"field": "a", "type": "quantitative", "scale": {"domain": [0, 2.5], "nice": false, "zero": false}, "axis": {"values": [0, 0.5, 1, 1.5, 2, 2.5], "format": ".1f", "title": "Absorbance"}},
    "color": {"field": "s", "type": "nominal", "scale": {"domain": ["x = 0.0", "x = 0.5", "x = 1.0", "x = 1.5", "x = 2.0"], "range": ["#4a7ebb", "#be4b48", "#98b954", "#7d60a0", "#46aac5"]}, "legend": {"title": null, "orient": "top-right", "offset": 4, "rowPadding": 3}}
   }},

  {"width": 130, "height": 226, "view": {"stroke": null}, "data": {"values": [{"t": "1000 ᵒ C"}]}, "mark": {"type": "text", "fontSize": 26, "dx": -3}, "encoding": {"text": {"field": "t", "type": "nominal"}}},
  {"width": 277, "height": 177,
   "data": {"values": [
    {"s":"x = 0.0","w":1000,"a":0.302},{"s":"x = 0.0","w":1037,"a":0.267},{"s":"x = 0.0","w":1081,"a":0.278},{"s":"x = 0.0","w":1156,"a":0.396},{"s":"x = 0.0","w":1230,"a":0.502},{"s":"x = 0.0","w":1304,"a":0.55},{"s":"x = 0.0","w":1378,"a":0.526},{"s":"x = 0.0","w":1526,"a":0.467},{"s":"x = 0.0","w":1674,"a":0.443},{"s":"x = 0.0","w":1822,"a":0.384},{"s":"x = 0.0","w":1970,"a":0.302},{"s":"x = 0.0","w":2089,"a":0.208},{"s":"x = 0.0","w":2200,"a":0.184},
    {"s":"x = 0.5","w":1000,"a":0.278},{"s":"x = 0.5","w":1037,"a":0.267},{"s":"x = 0.5","w":1081,"a":0.29},{"s":"x = 0.5","w":1156,"a":0.396},{"s":"x = 0.5","w":1230,"a":0.491},{"s":"x = 0.5","w":1304,"a":0.519},{"s":"x = 0.5","w":1378,"a":0.491},{"s":"x = 0.5","w":1526,"a":0.42},{"s":"x = 0.5","w":1674,"a":0.384},{"s":"x = 0.5","w":1822,"a":0.337},{"s":"x = 0.5","w":1970,"a":0.255},{"s":"x = 0.5","w":2089,"a":0.172},{"s":"x = 0.5","w":2200,"a":0.149},
    {"s":"x = 1.0","w":1000,"a":0.349},{"s":"x = 1.0","w":1037,"a":0.354},{"s":"x = 1.0","w":1081,"a":0.384},{"s":"x = 1.0","w":1156,"a":0.491},{"s":"x = 1.0","w":1230,"a":0.585},{"s":"x = 1.0","w":1304,"a":0.637},{"s":"x = 1.0","w":1378,"a":0.62},{"s":"x = 1.0","w":1526,"a":0.491},{"s":"x = 1.0","w":1674,"a":0.42},{"s":"x = 1.0","w":1822,"a":0.349},{"s":"x = 1.0","w":1970,"a":0.278},{"s":"x = 1.0","w":2119,"a":0.208},{"s":"x = 1.0","w":2200,"a":0.208},
    {"s":"x = 1.5","w":1000,"a":0.455},{"s":"x = 1.5","w":1037,"a":0.514},{"s":"x = 1.5","w":1081,"a":0.608},{"s":"x = 1.5","w":1156,"a":0.726},{"s":"x = 1.5","w":1230,"a":0.785},{"s":"x = 1.5","w":1304,"a":0.802},{"s":"x = 1.5","w":1378,"a":0.762},{"s":"x = 1.5","w":1452,"a":0.679},{"s":"x = 1.5","w":1526,"a":0.585},{"s":"x = 1.5","w":1600,"a":0.514},{"s":"x = 1.5","w":1674,"a":0.448},{"s":"x = 1.5","w":1822,"a":0.373},{"s":"x = 1.5","w":1970,"a":0.321},{"s":"x = 1.5","w":2119,"a":0.283},{"s":"x = 1.5","w":2200,"a":0.267},
    {"s":"x = 2.0","w":1000,"a":0.491},{"s":"x = 2.0","w":1037,"a":0.573},{"s":"x = 2.0","w":1081,"a":0.679},{"s":"x = 2.0","w":1156,"a":0.797},{"s":"x = 2.0","w":1230,"a":0.856},{"s":"x = 2.0","w":1304,"a":0.868},{"s":"x = 2.0","w":1378,"a":0.833},{"s":"x = 2.0","w":1452,"a":0.75},{"s":"x = 2.0","w":1526,"a":0.632},{"s":"x = 2.0","w":1600,"a":0.526},{"s":"x = 2.0","w":1674,"a":0.448},{"s":"x = 2.0","w":1822,"a":0.373},{"s":"x = 2.0","w":1970,"a":0.302},{"s":"x = 2.0","w":2119,"a":0.274},{"s":"x = 2.0","w":2200,"a":0.278}
   ]},
   "mark": {"type": "line", "clip": true},
   "encoding": {
    "x": {"field": "w", "type": "quantitative", "scale": {"domain": [1000, 2200], "nice": false, "zero": false}, "axis": {"values": [1000, 1500, 2000], "title": "λ (nm)", "titleY": 44}},
    "y": {"field": "a", "type": "quantitative", "scale": {"domain": [0, 1.25], "nice": false, "zero": false}, "axis": {"values": [0, 0.25, 0.5, 0.75, 1, 1.25], "labelExpr": "format(datum.value + 0.000001, '.1f')", "title": "Absorbance"}},
    "color": {"field": "s", "type": "nominal", "scale": {"domain": ["x = 0.0", "x = 0.5", "x = 1.0", "x = 1.5", "x = 2.0"], "range": ["#4a7ebb", "#be4b48", "#98b954", "#7d60a0", "#46aac5"]}, "legend": null}
   }},
  {"width": 278, "height": 177,
   "data": {"values": [
    {"s":"x = 0.0","w":600,"a":0.101},{"s":"x = 0.0","w":623,"a":0.125},{"s":"x = 0.0","w":648,"a":0.16},{"s":"x = 0.0","w":673,"a":0.208},{"s":"x = 0.0","w":691,"a":0.278},{"s":"x = 0.0","w":703,"a":0.373},{"s":"x = 0.0","w":716,"a":0.368},{"s":"x = 0.0","w":734,"a":0.384},{"s":"x = 0.0","w":759,"a":0.443},{"s":"x = 0.0","w":783,"a":0.514},{"s":"x = 0.0","w":808,"a":0.561},{"s":"x = 0.0","w":826,"a":0.566},{"s":"x = 0.0","w":857,"a":0.526},{"s":"x = 0.0","w":894,"a":0.455},{"s":"x = 0.0","w":955,"a":0.384},{"s":"x = 0.0","w":1017,"a":0.302},{"s":"x = 0.0","w":1054,"a":0.259},{"s":"x = 0.0","w":1100,"a":0.29},
    {"s":"x = 0.5","w":600,"a":0.16},{"s":"x = 0.5","w":623,"a":0.184},{"s":"x = 0.5","w":648,"a":0.219},{"s":"x = 0.5","w":673,"a":0.29},{"s":"x = 0.5","w":697,"a":0.432},{"s":"x = 0.5","w":722,"a":0.467},{"s":"x = 0.5","w":746,"a":0.502},{"s":"x = 0.5","w":783,"a":0.538},{"s":"x = 0.5","w":808,"a":0.566},{"s":"x = 0.5","w":832,"a":0.55},{"s":"x = 0.5","w":863,"a":0.502},{"s":"x = 0.5","w":894,"a":0.432},{"s":"x = 0.5","w":955,"a":0.349},{"s":"x = 0.5","w":1017,"a":0.267},{"s":"x = 0.5","w":1078,"a":0.267},{"s":"x = 0.5","w":1100,"a":0.314},
    {"s":"x = 1.0","w":600,"a":0.274},{"s":"x = 1.0","w":623,"a":0.29},{"s":"x = 1.0","w":648,"a":0.325},{"s":"x = 1.0","w":673,"a":0.432},{"s":"x = 1.0","w":703,"a":0.632},{"s":"x = 1.0","w":734,"a":0.703},{"s":"x = 1.0","w":771,"a":0.708},{"s":"x = 1.0","w":808,"a":0.715},{"s":"x = 1.0","w":845,"a":0.679},{"s":"x = 1.0","w":882,"a":0.585},{"s":"x = 1.0","w":925,"a":0.467},{"s":"x = 1.0","w":974,"a":0.373},{"s":"x = 1.0","w":1017,"a":0.349},{"s":"x = 1.0","w":1054,"a":0.361},{"s":"x = 1.0","w":1100,"a":0.443},
    {"s":"x = 1.5","w":600,"a":0.439},{"s":"x = 1.5","w":623,"a":0.479},{"s":"x = 1.5","w":648,"a":0.538},{"s":"x = 1.5","w":673,"a":0.679},{"s":"x = 1.5","w":703,"a":0.891},{"s":"x = 1.5","w":734,"a":0.974},{"s":"x = 1.5","w":771,"a":0.95},{"s":"x = 1.5","w":808,"a":0.915},{"s":"x = 1.5","w":845,"a":0.868},{"s":"x = 1.5","w":882,"a":0.726},{"s":"x = 1.5","w":925,"a":0.561},{"s":"x = 1.5","w":955,"a":0.486},{"s":"x = 1.5","w":986,"a":0.462},{"s":"x = 1.5","w":1017,"a":0.491},{"s":"x = 1.5","w":1054,"a":0.55},{"s":"x = 1.5","w":1100,"a":0.608},
    {"s":"x = 2.0","w":600,"a":0.533},{"s":"x = 2.0","w":623,"a":0.561},{"s":"x = 2.0","w":648,"a":0.632},{"s":"x = 2.0","w":673,"a":0.774},{"s":"x = 2.0","w":703,"a":0.962},{"s":"x = 2.0","w":734,"a":1.061},{"s":"x = 2.0","w":771,"a":1.033},{"s":"x = 2.0","w":808,"a":0.974},{"s":"x = 2.0","w":845,"a":0.927},{"s":"x = 2.0","w":857,"a":0.903},{"s":"x = 2.0","w":894,"a":0.75},{"s":"x = 2.0","w":937,"a":0.561},{"s":"x = 2.0","w":968,"a":0.491},{"s":"x = 2.0","w":999,"a":0.491},{"s":"x = 2.0","w":1048,"a":0.561},{"s":"x = 2.0","w":1100,"a":0.679}
   ]},
   "mark": {"type": "line", "clip": true},
   "encoding": {
    "x": {"field": "w", "type": "quantitative", "scale": {"domain": [600, 1100], "nice": false, "zero": false}, "axis": {"values": [600, 700, 800, 900, 1000, 1100], "title": "λ (nm)", "titleY": 44}},
    "y": {"field": "a", "type": "quantitative", "scale": {"domain": [0, 1.25], "nice": false, "zero": false}, "axis": {"values": [0, 0.25, 0.5, 0.75, 1, 1.25], "labelExpr": "format(datum.value + 0.000001, '.1f')", "title": "Absorbance"}},
    "color": {"field": "s", "type": "nominal", "scale": {"domain": ["x = 0.0", "x = 0.5", "x = 1.0", "x = 1.5", "x = 2.0"], "range": ["#4a7ebb", "#be4b48", "#98b954", "#7d60a0", "#46aac5"]}, "legend": null}
   }},
  {"width": 283, "height": 181,
   "data": {"values": [
    {"s":"x = 0.0","w":200,"a":0.069},{"s":"x = 0.0","w":208,"a":0.369},{"s":"x = 0.0","w":221,"a":0.83},{"s":"x = 0.0","w":234,"a":1.29},{"s":"x = 0.0","w":251,"a":1.75},{"s":"x = 0.0","w":264,"a":1.89},{"s":"x = 0.0","w":283,"a":1.96},{"s":"x = 0.0","w":293,"a":2.01},{"s":"x = 0.0","w":299,"a":1.87},{"s":"x = 0.0","w":306,"a":1.29},{"s":"x = 0.0","w":316,"a":0.692},{"s":"x = 0.0","w":329,"a":0.185},{"s":"x = 0.0","w":338,"a":0.0},{"s":"x = 0.0","w":348,"a":-0.055},{"s":"x = 0.0","w":361,"a":0.0},{"s":"x = 0.0","w":377,"a":0.161},{"s":"x = 0.0","w":387,"a":0.208},{"s":"x = 0.0","w":403,"a":0.415},{"s":"x = 0.0","w":416,"a":0.623},{"s":"x = 0.0","w":426,"a":0.683},{"s":"x = 0.0","w":439,"a":0.6},{"s":"x = 0.0","w":452,"a":0.438},{"s":"x = 0.0","w":471,"a":0.452},{"s":"x = 0.0","w":491,"a":0.392},{"s":"x = 0.0","w":517,"a":0.254},{"s":"x = 0.0","w":543,"a":0.138},{"s":"x = 0.0","w":569,"a":0.069},{"s":"x = 0.0","w":608,"a":0.092},{"s":"x = 0.0","w":660,"a":0.161},{"s":"x = 0.0","w":686,"a":0.254},{"s":"x = 0.0","w":699,"a":0.378},{"s":"x = 0.0","w":718,"a":0.369},{"s":"x = 0.0","w":740,"a":0.424},
    {"s":"x = 0.5","w":200,"a":0.092},{"s":"x = 0.5","w":212,"a":0.507},{"s":"x = 0.5","w":225,"a":0.92},{"s":"x = 0.5","w":238,"a":1.34},{"s":"x = 0.5","w":251,"a":1.61},{"s":"x = 0.5","w":270,"a":1.75},{"s":"x = 0.5","w":283,"a":1.87},{"s":"x = 0.5","w":296,"a":1.95},{"s":"x = 0.5","w":306,"a":1.94},{"s":"x = 0.5","w":316,"a":1.61},{"s":"x = 0.5","w":329,"a":1.38},{"s":"x = 0.5","w":348,"a":1.27},{"s":"x = 0.5","w":374,"a":1.25},{"s":"x = 0.5","w":400,"a":1.29},{"s":"x = 0.5","w":426,"a":1.3},{"s":"x = 0.5","w":439,"a":1.25},{"s":"x = 0.5","w":465,"a":1.0},{"s":"x = 0.5","w":491,"a":0.7},{"s":"x = 0.5","w":517,"a":0.42},{"s":"x = 0.5","w":543,"a":0.22},{"s":"x = 0.5","w":569,"a":0.14},{"s":"x = 0.5","w":601,"a":0.15},{"s":"x = 0.5","w":666,"a":0.23},{"s":"x = 0.5","w":705,"a":0.4},{"s":"x = 0.5","w":718,"a":0.46},{"s":"x = 0.5","w":740,"a":0.5},
    {"s":"x = 1.0","w":200,"a":0.08},{"s":"x = 1.0","w":212,"a":0.369},{"s":"x = 1.0","w":225,"a":0.646},{"s":"x = 1.0","w":238,"a":0.92},{"s":"x = 1.0","w":257,"a":1.2},{"s":"x = 1.0","w":270,"a":1.29},{"s":"x = 1.0","w":290,"a":1.38},{"s":"x = 1.0","w":306,"a":1.55},{"s":"x = 1.0","w":316,"a":1.38},{"s":"x = 1.0","w":329,"a":1.2},{"s":"x = 1.0","w":348,"a":1.13},{"s":"x = 1.0","w":374,"a":1.18},{"s":"x = 1.0","w":400,"a":1.25},{"s":"x = 1.0","w":426,"a":1.27},{"s":"x = 1.0","w":452,"a":1.15},{"s":"x = 1.0","w":478,"a":0.92},{"s":"x = 1.0","w":504,"a":0.646},{"s":"x = 1.0","w":536,"a":0.369},{"s":"x = 1.0","w":569,"a":0.254},{"s":"x = 1.0","w":621,"a":0.277},{"s":"x = 1.0","w":666,"a":0.392},{"s":"x = 1.0","w":699,"a":0.577},{"s":"x = 1.0","w":740,"a":0.609},
    {"s":"x = 1.5","w":200,"a":0.09},{"s":"x = 1.5","w":212,"a":0.484},{"s":"x = 1.5","w":225,"a":0.876},{"s":"x = 1.5","w":238,"a":1.34},{"s":"x = 1.5","w":251,"a":1.61},{"s":"x = 1.5","w":270,"a":1.8},{"s":"x = 1.5","w":290,"a":1.87},{"s":"x = 1.5","w":303,"a":1.91},{"s":"x = 1.5","w":309,"a":1.87},{"s":"x = 1.5","w":322,"a":1.38},{"s":"x = 1.5","w":335,"a":1.22},{"s":"x = 1.5","w":355,"a":1.19},{"s":"x = 1.5","w":400,"a":1.29},{"s":"x = 1.5","w":439,"a":1.34},{"s":"x = 1.5","w":465,"a":1.29},{"s":"x = 1.5","w":491,"a":1.11},{"s":"x = 1.5","w":517,"a":0.83},{"s":"x = 1.5","w":543,"a":0.553},{"s":"x = 1.5","w":569,"a":0.415},{"s":"x = 1.5","w":621,"a":0.461},{"s":"x = 1.5","w":666,"a":0.6},{"s":"x = 1.5","w":699,"a":0.784},{"s":"x = 1.5","w":740,"a":0.844},
    {"s":"x = 2.0","w":200,"a":0.09},{"s":"x = 2.0","w":212,"a":0.461},{"s":"x = 2.0","w":225,"a":0.876},{"s":"x = 2.0","w":238,"a":1.29},{"s":"x = 2.0","w":251,"a":1.57},{"s":"x = 2.0","w":270,"a":1.75},{"s":"x = 2.0","w":290,"a":1.85},{"s":"x = 2.0","w":303,"a":1.94},{"s":"x = 2.0","w":312,"a":1.85},{"s":"x = 2.0","w":322,"a":1.38},{"s":"x = 2.0","w":335,"a":1.2},{"s":"x = 2.0","w":355,"a":1.15},{"s":"x = 2.0","w":400,"a":1.22},{"s":"x = 2.0","w":439,"a":1.27},{"s":"x = 2.0","w":471,"a":1.29},{"s":"x = 2.0","w":491,"a":1.15},{"s":"x = 2.0","w":517,"a":0.876},{"s":"x = 2.0","w":536,"a":0.738},{"s":"x = 2.0","w":562,"a":0.53},{"s":"x = 2.0","w":588,"a":0.53},{"s":"x = 2.0","w":634,"a":0.623},{"s":"x = 2.0","w":666,"a":0.738},{"s":"x = 2.0","w":699,"a":0.899},{"s":"x = 2.0","w":718,"a":1.06},{"s":"x = 2.0","w":740,"a":1.05}
   ]},
   "mark": {"type": "line", "clip": true},
   "encoding": {
    "x": {"field": "w", "type": "quantitative", "scale": {"domain": [200, 740], "nice": false, "zero": false}, "axis": {"values": [200, 400, 600], "title": "λ (nm)", "titleY": 42, "titleX": 262}},
    "y": {"field": "a", "type": "quantitative", "scale": {"domain": [0, 2.5], "nice": false, "zero": false}, "axis": {"values": [0, 0.5, 1, 1.5, 2, 2.5], "format": ".1f", "title": "Absorbance"}},
    "color": {"field": "s", "type": "nominal", "scale": {"domain": ["x = 0.0", "x = 0.5", "x = 1.0", "x = 1.5", "x = 2.0"], "range": ["#4a7ebb", "#be4b48", "#98b954", "#7d60a0", "#46aac5"]}, "legend": {"title": null, "orient": "top-right", "offset": 4, "rowPadding": 5}}
   }},

  {"width": 130, "height": 226, "view": {"stroke": null}, "data": {"values": [{"t": "1200 ᵒ C"}]}, "mark": {"type": "text", "fontSize": 26, "dx": -3}, "encoding": {"text": {"field": "t", "type": "nominal"}}},
  {"width": 277, "height": 180,
   "data": {"values": [
    {"s":"x = 0.0","w":1000,"a":0.443},{"s":"x = 0.0","w":1029,"a":0.397},{"s":"x = 0.0","w":1066,"a":0.385},{"s":"x = 0.0","w":1124,"a":0.466},{"s":"x = 0.0","w":1198,"a":0.627},{"s":"x = 0.0","w":1271,"a":0.743},{"s":"x = 0.0","w":1315,"a":0.773},{"s":"x = 0.0","w":1388,"a":0.731},{"s":"x = 0.0","w":1534,"a":0.673},{"s":"x = 0.0","w":1681,"a":0.616},{"s":"x = 0.0","w":1827,"a":0.535},{"s":"x = 0.0","w":1974,"a":0.397},{"s":"x = 0.0","w":2120,"a":0.293},{"s":"x = 0.0","w":2200,"a":0.24},
    {"s":"x = 0.5","w":1000,"a":0.466},{"s":"x = 0.5","w":1037,"a":0.438},{"s":"x = 0.5","w":1081,"a":0.443},{"s":"x = 0.5","w":1139,"a":0.512},{"s":"x = 0.5","w":1212,"a":0.673},{"s":"x = 0.5","w":1285,"a":0.777},{"s":"x = 0.5","w":1329,"a":0.793},{"s":"x = 0.5","w":1417,"a":0.743},{"s":"x = 0.5","w":1534,"a":0.673},{"s":"x = 0.5","w":1681,"a":0.604},{"s":"x = 0.5","w":1827,"a":0.512},{"s":"x = 0.5","w":1974,"a":0.374},{"s":"x = 0.5","w":2120,"a":0.293},{"s":"x = 0.5","w":2200,"a":0.27},
    {"s":"x = 1.0","w":1000,"a":0.535},{"s":"x = 1.0","w":1037,"a":0.54},{"s":"x = 1.0","w":1095,"a":0.593},{"s":"x = 1.0","w":1168,"a":0.72},{"s":"x = 1.0","w":1242,"a":0.835},{"s":"x = 1.0","w":1315,"a":0.876},{"s":"x = 1.0","w":1388,"a":0.835},{"s":"x = 1.0","w":1461,"a":0.743},{"s":"x = 1.0","w":1534,"a":0.685},{"s":"x = 1.0","w":1681,"a":0.627},{"s":"x = 1.0","w":1827,"a":0.57},{"s":"x = 1.0","w":1974,"a":0.512},{"s":"x = 1.0","w":2120,"a":0.454},{"s":"x = 1.0","w":2200,"a":0.438},
    {"s":"x = 1.5","w":1000,"a":0.535},{"s":"x = 1.5","w":1037,"a":0.57},{"s":"x = 1.5","w":1095,"a":0.65},{"s":"x = 1.5","w":1168,"a":0.789},{"s":"x = 1.5","w":1242,"a":0.881},{"s":"x = 1.5","w":1315,"a":0.904},{"s":"x = 1.5","w":1388,"a":0.858},{"s":"x = 1.5","w":1461,"a":0.777},{"s":"x = 1.5","w":1534,"a":0.697},{"s":"x = 1.5","w":1681,"a":0.604},{"s":"x = 1.5","w":1827,"a":0.524},{"s":"x = 1.5","w":1900,"a":0.489},{"s":"x = 1.5","w":1974,"a":0.477},{"s":"x = 1.5","w":2120,"a":0.443},{"s":"x = 1.5","w":2200,"a":0.454},
    {"s":"x = 2.0","w":1000,"a":0.632},{"s":"x = 2.0","w":1037,"a":0.697},{"s":"x = 2.0","w":1095,"a":0.8},{"s":"x = 2.0","w":1168,"a":0.927},{"s":"x = 2.0","w":1242,"a":1.031},{"s":"x = 2.0","w":1315,"a":1.066},{"s":"x = 2.0","w":1388,"a":1.054},{"s":"x = 2.0","w":1461,"a":0.996},{"s":"x = 2.0","w":1534,"a":0.893},{"s":"x = 2.0","w":1608,"a":0.766},{"s":"x = 2.0","w":1681,"a":0.627},{"s":"x = 2.0","w":1754,"a":0.5},{"s":"x = 2.0","w":1827,"a":0.42},{"s":"x = 2.0","w":1974,"a":0.351},{"s":"x = 2.0","w":2047,"a":0.339},{"s":"x = 2.0","w":2120,"a":0.316},{"s":"x = 2.0","w":2200,"a":0.332}
   ]},
   "mark": {"type": "line", "clip": true},
   "encoding": {
    "x": {"field": "w", "type": "quantitative", "scale": {"domain": [1000, 2200], "nice": false, "zero": false}, "axis": {"values": [1000, 1500, 2000], "title": "λ (nm)", "titleY": 41}},
    "y": {"field": "a", "type": "quantitative", "scale": {"domain": [0, 1.25], "nice": false, "zero": false}, "axis": {"values": [0, 0.25, 0.5, 0.75, 1, 1.25], "labelExpr": "format(datum.value + 0.000001, '.1f')", "title": "Absorbance"}},
    "color": {"field": "s", "type": "nominal", "scale": {"domain": ["x = 0.0", "x = 0.5", "x = 1.0", "x = 1.5", "x = 2.0"], "range": ["#4a7ebb", "#be4b48", "#98b954", "#7d60a0", "#46aac5"]}, "legend": null}
   }},
  {"width": 278, "height": 173,
   "data": {"values": [
    {"s":"x = 0.0","w":600,"a":0.174},{"s":"x = 0.0","w":625,"a":0.221},{"s":"x = 0.0","w":656,"a":0.269},{"s":"x = 0.0","w":680,"a":0.329},{"s":"x = 0.0","w":698,"a":0.507},{"s":"x = 0.0","w":704,"a":0.602},{"s":"x = 0.0","w":713,"a":0.567},{"s":"x = 0.0","w":722,"a":0.574},{"s":"x = 0.0","w":740,"a":0.626},{"s":"x = 0.0","w":764,"a":0.71},{"s":"x = 0.0","w":789,"a":0.805},{"s":"x = 0.0","w":807,"a":0.86},{"s":"x = 0.0","w":825,"a":0.852},{"s":"x = 0.0","w":849,"a":0.805},{"s":"x = 0.0","w":897,"a":0.662},{"s":"x = 0.0","w":958,"a":0.531},{"s":"x = 0.0","w":1000,"a":0.448},{"s":"x = 0.0","w":1049,"a":0.383},{"s":"x = 0.0","w":1079,"a":0.388},{"s":"x = 0.0","w":1100,"a":0.429},
    {"s":"x = 0.5","w":600,"a":0.329},{"s":"x = 0.5","w":625,"a":0.364},{"s":"x = 0.5","w":656,"a":0.424},{"s":"x = 0.5","w":680,"a":0.555},{"s":"x = 0.5","w":698,"a":0.698},{"s":"x = 0.5","w":710,"a":0.733},{"s":"x = 0.5","w":728,"a":0.745},{"s":"x = 0.5","w":764,"a":0.793},{"s":"x = 0.5","w":801,"a":0.864},{"s":"x = 0.5","w":819,"a":0.869},{"s":"x = 0.5","w":849,"a":0.829},{"s":"x = 0.5","w":897,"a":0.674},{"s":"x = 0.5","w":958,"a":0.519},{"s":"x = 0.5","w":1006,"a":0.46},{"s":"x = 0.5","w":1049,"a":0.436},{"s":"x = 0.5","w":1100,"a":0.507},
    {"s":"x = 1.0","w":600,"a":0.483},{"s":"x = 1.0","w":625,"a":0.507},{"s":"x = 1.0","w":656,"a":0.579},{"s":"x = 1.0","w":680,"a":0.721},{"s":"x = 1.0","w":698,"a":0.852},{"s":"x = 1.0","w":716,"a":0.876},{"s":"x = 1.0","w":746,"a":0.912},{"s":"x = 1.0","w":777,"a":0.94},{"s":"x = 1.0","w":807,"a":0.948},{"s":"x = 1.0","w":837,"a":0.924},{"s":"x = 1.0","w":867,"a":0.864},{"s":"x = 1.0","w":897,"a":0.769},{"s":"x = 1.0","w":958,"a":0.59},{"s":"x = 1.0","w":1006,"a":0.543},{"s":"x = 1.0","w":1049,"a":0.555},{"s":"x = 1.0","w":1100,"a":0.638},
    {"s":"x = 1.5","w":600,"a":0.555},{"s":"x = 1.5","w":625,"a":0.579},{"s":"x = 1.5","w":656,"a":0.65},{"s":"x = 1.5","w":680,"a":0.793},{"s":"x = 1.5","w":704,"a":0.936},{"s":"x = 1.5","w":728,"a":1.007},{"s":"x = 1.5","w":777,"a":1.0},{"s":"x = 1.5","w":825,"a":0.971},{"s":"x = 1.5","w":861,"a":0.912},{"s":"x = 1.5","w":897,"a":0.781},{"s":"x = 1.5","w":958,"a":0.602},{"s":"x = 1.5","w":1000,"a":0.543},{"s":"x = 1.5","w":1049,"a":0.579},{"s":"x = 1.5","w":1100,"a":0.702},
    {"s":"x = 2.0","w":600,"a":0.75},{"s":"x = 2.0","w":625,"a":0.781},{"s":"x = 2.0","w":656,"a":0.852},{"s":"x = 2.0","w":680,"a":0.983},{"s":"x = 2.0","w":704,"a":1.09},{"s":"x = 2.0","w":734,"a":1.138},{"s":"x = 2.0","w":777,"a":1.131},{"s":"x = 2.0","w":825,"a":1.102},{"s":"x = 2.0","w":861,"a":1.067},{"s":"x = 2.0","w":897,"a":0.936},{"s":"x = 2.0","w":946,"a":0.745},{"s":"x = 2.0","w":976,"a":0.638},{"s":"x = 2.0","w":1006,"a":0.631},{"s":"x = 2.0","w":1049,"a":0.71},{"s":"x = 2.0","w":1100,"a":0.876}
   ]},
   "mark": {"type": "line", "clip": true},
   "encoding": {
    "x": {"field": "w", "type": "quantitative", "scale": {"domain": [600, 1100], "nice": false, "zero": false}, "axis": {"values": [600, 700, 800, 900, 1000, 1100], "title": "λ (nm)", "titleY": 48}},
    "y": {"field": "a", "type": "quantitative", "scale": {"domain": [0, 1.25], "nice": false, "zero": false}, "axis": {"values": [0, 0.25, 0.5, 0.75, 1, 1.25], "labelExpr": "format(datum.value + 0.000001, '.1f')", "title": "Absorbance"}},
    "color": {"field": "s", "type": "nominal", "scale": {"domain": ["x = 0.0", "x = 0.5", "x = 1.0", "x = 1.5", "x = 2.0"], "range": ["#4a7ebb", "#be4b48", "#98b954", "#7d60a0", "#46aac5"]}, "legend": null}
   }},
  {"width": 283, "height": 179,
   "data": {"values": [
    {"s":"x = 0.0","w":200,"a":0.1},{"s":"x = 0.0","w":215,"a":0.6},{"s":"x = 0.0","w":230,"a":1.2},{"s":"x = 0.0","w":250,"a":1.6},{"s":"x = 0.0","w":270,"a":1.8},{"s":"x = 0.0","w":290,"a":1.9},{"s":"x = 0.0","w":297,"a":1.95},{"s":"x = 0.0","w":305,"a":1.5},{"s":"x = 0.0","w":315,"a":0.9},{"s":"x = 0.0","w":330,"a":0.3},{"s":"x = 0.0","w":345,"a":0.12},{"s":"x = 0.0","w":355,"a":0.12},{"s":"x = 0.0","w":370,"a":0.3},{"s":"x = 0.0","w":385,"a":0.45},{"s":"x = 0.0","w":400,"a":0.6},{"s":"x = 0.0","w":415,"a":0.9},{"s":"x = 0.0","w":430,"a":1.1},{"s":"x = 0.0","w":440,"a":0.95},{"s":"x = 0.0","w":455,"a":0.75},{"s":"x = 0.0","w":470,"a":0.78},{"s":"x = 0.0","w":490,"a":0.6},{"s":"x = 0.0","w":520,"a":0.35},{"s":"x = 0.0","w":550,"a":0.2},{"s":"x = 0.0","w":575,"a":0.13},{"s":"x = 0.0","w":620,"a":0.17},{"s":"x = 0.0","w":660,"a":0.3},{"s":"x = 0.0","w":690,"a":0.45},{"s":"x = 0.0","w":705,"a":0.6},{"s":"x = 0.0","w":720,"a":0.57},{"s":"x = 0.0","w":750,"a":0.7},
    {"s":"x = 0.5","w":200,"a":0.1},{"s":"x = 0.5","w":215,"a":0.7},{"s":"x = 0.5","w":230,"a":1.3},{"s":"x = 0.5","w":250,"a":1.7},{"s":"x = 0.5","w":270,"a":1.85},{"s":"x = 0.5","w":290,"a":2.0},{"s":"x = 0.5","w":298,"a":2.05},{"s":"x = 0.5","w":310,"a":1.7},{"s":"x = 0.5","w":325,"a":1.25},{"s":"x = 0.5","w":345,"a":1.15},{"s":"x = 0.5","w":380,"a":1.1},{"s":"x = 0.5","w":420,"a":1.2},{"s":"x = 0.5","w":440,"a":1.2},{"s":"x = 0.5","w":465,"a":1.1},{"s":"x = 0.5","w":490,"a":0.85},{"s":"x = 0.5","w":520,"a":0.6},{"s":"x = 0.5","w":550,"a":0.42},{"s":"x = 0.5","w":580,"a":0.35},{"s":"x = 0.5","w":620,"a":0.36},{"s":"x = 0.5","w":680,"a":0.5},{"s":"x = 0.5","w":710,"a":0.65},{"s":"x = 0.5","w":750,"a":0.75},
    {"s":"x = 1.0","w":200,"a":0.1},{"s":"x = 1.0","w":215,"a":0.65},{"s":"x = 1.0","w":230,"a":1.2},{"s":"x = 1.0","w":250,"a":1.6},{"s":"x = 1.0","w":270,"a":1.8},{"s":"x = 1.0","w":290,"a":1.9},{"s":"x = 1.0","w":298,"a":1.95},{"s":"x = 1.0","w":310,"a":1.6},{"s":"x = 1.0","w":325,"a":1.2},{"s":"x = 1.0","w":345,"a":1.1},{"s":"x = 1.0","w":380,"a":1.1},{"s":"x = 1.0","w":430,"a":1.15},{"s":"x = 1.0","w":460,"a":1.1},{"s":"x = 1.0","w":490,"a":0.95},{"s":"x = 1.0","w":520,"a":0.75},{"s":"x = 1.0","w":550,"a":0.6},{"s":"x = 1.0","w":575,"a":0.5},{"s":"x = 1.0","w":620,"a":0.55},{"s":"x = 1.0","w":680,"a":0.7},{"s":"x = 1.0","w":710,"a":0.8},{"s":"x = 1.0","w":750,"a":0.9},
    {"s":"x = 1.5","w":200,"a":0.1},{"s":"x = 1.5","w":215,"a":0.7},{"s":"x = 1.5","w":230,"a":1.25},{"s":"x = 1.5","w":250,"a":1.7},{"s":"x = 1.5","w":270,"a":1.85},{"s":"x = 1.5","w":290,"a":1.95},{"s":"x = 1.5","w":298,"a":2.0},{"s":"x = 1.5","w":310,"a":1.6},{"s":"x = 1.5","w":325,"a":1.2},{"s":"x = 1.5","w":345,"a":1.12},{"s":"x = 1.5","w":380,"a":1.15},{"s":"x = 1.5","w":430,"a":1.22},{"s":"x = 1.5","w":470,"a":1.12},{"s":"x = 1.5","w":500,"a":1.0},{"s":"x = 1.5","w":530,"a":0.8},{"s":"x = 1.5","w":560,"a":0.65},{"s":"x = 1.5","w":580,"a":0.6},{"s":"x = 1.5","w":620,"a":0.65},{"s":"x = 1.5","w":680,"a":0.8},{"s":"x = 1.5","w":710,"a":0.9},{"s":"x = 1.5","w":750,"a":1.0},
    {"s":"x = 2.0","w":200,"a":0.1},{"s":"x = 2.0","w":215,"a":0.7},{"s":"x = 2.0","w":230,"a":1.25},{"s":"x = 2.0","w":250,"a":1.65},{"s":"x = 2.0","w":270,"a":1.8},{"s":"x = 2.0","w":290,"a":1.9},{"s":"x = 2.0","w":298,"a":1.95},{"s":"x = 2.0","w":310,"a":1.55},{"s":"x = 2.0","w":325,"a":1.1},{"s":"x = 2.0","w":345,"a":1.05},{"s":"x = 2.0","w":380,"a":1.07},{"s":"x = 2.0","w":420,"a":1.1},{"s":"x = 2.0","w":450,"a":1.15},{"s":"x = 2.0","w":490,"a":1.08},{"s":"x = 2.0","w":520,"a":0.95},{"s":"x = 2.0","w":545,"a":0.85},{"s":"x = 2.0","w":570,"a":0.75},{"s":"x = 2.0","w":620,"a":0.8},{"s":"x = 2.0","w":680,"a":0.95},{"s":"x = 2.0","w":710,"a":1.05},{"s":"x = 2.0","w":750,"a":1.15}
   ]},
   "mark": {"type": "line", "clip": true},
   "encoding": {
    "x": {"field": "w", "type": "quantitative", "scale": {"domain": [200, 750], "nice": false, "zero": false}, "axis": {"values": [200, 400, 600], "title": "λ (nm)", "titleY": 41, "titleX": 262}},
    "y": {"field": "a", "type": "quantitative", "scale": {"domain": [0, 2.5], "nice": false, "zero": false}, "axis": {"values": [0, 0.5, 1, 1.5, 2, 2.5], "format": ".1f", "title": "Absorbance"}},
    "color": {"field": "s", "type": "nominal", "scale": {"domain": ["x = 0.0", "x = 0.5", "x = 1.0", "x = 1.5", "x = 2.0"], "range": ["#4a7ebb", "#be4b48", "#98b954", "#7d60a0", "#46aac5"]}, "legend": {"title": null, "orient": "top-right", "offset": 4, "rowPadding": 1}}
   }}
]
}
